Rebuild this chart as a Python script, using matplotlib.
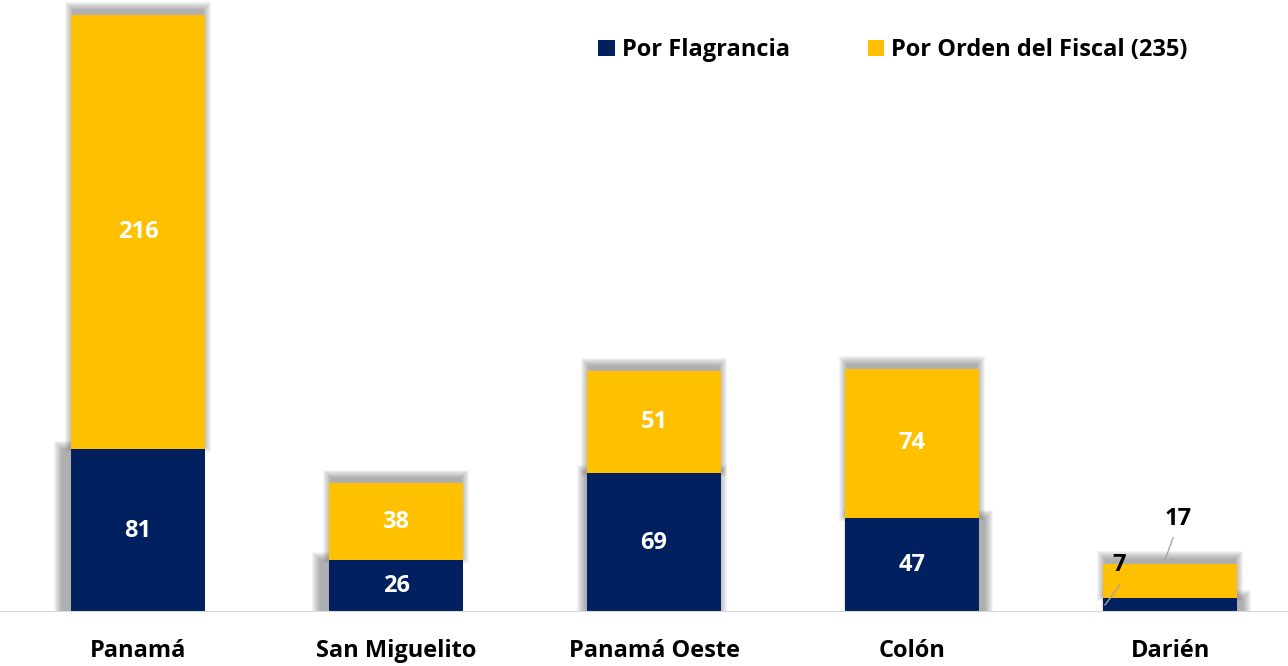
import matplotlib
matplotlib.use("Agg")
import matplotlib.pyplot as plt
from matplotlib.patches import Rectangle
from matplotlib.lines import Line2D

categories = ["Panamá", "San Miguelito", "Panamá Oeste", "Colón", "Darién"]
flagrancia = [81, 26, 69, 47, 7]
orden_fiscal = [216, 38, 51, 74, 17]
series_names = ["Por Flagrancia", "Por Orden del Fiscal (235)"]

NAVY = "#002060"
GOLD = "#FFC000"
FONT = ["Open Sans", "DejaVu Sans"]
FS = 17

W, H = 1288, 666
fig = plt.figure(figsize=(W / 100, H / 100), dpi=100)
ax = fig.add_axes([0, (H - 612) / H, 1, 612 / H])
xmin, xmax = -0.535, 4.457
ymax = 304.5
ax.set_xlim(xmin, xmax)
ax.set_ylim(0, ymax)
for s in ax.spines.values():
    s.set_visible(False)
ax.set_xticks([])
ax.set_yticks([])

pxx = W / (xmax - xmin)
pxy = 612 / ymax
width = 0.52

def shadow(x0, y0, w, h, dxp, dyp, shrink=3, blur=8, alpha=0.07):
    x0 = x0 + (dxp + shrink) / pxx
    w = w - 2 * shrink / pxx
    y0 = y0 + dyp / pxy
    for e in range(blur, -1, -1):
        ex, ey = e / pxx, e / pxy
        ax.add_patch(Rectangle((x0 - ex, y0 - ey), w + 2 * ex, h + 2 * ey,
                               facecolor="#606060", edgecolor="none",
                               alpha=alpha, zorder=1))

# shadow pixel offsets for the navy segments (style only)
navy_shadow_dx = [-9, -9, -2, 6, 6]

x = list(range(len(categories)))
for i in x:
    f, o = flagrancia[i], orden_fiscal[i]
    shadow(i - width / 2, 0, width, f, navy_shadow_dx[i], 0, shrink=0)
    shadow(i - width / 2, f, width, o, 0, 5, shrink=2)

ax.bar(x, flagrancia, width, color=NAVY, zorder=3, label=series_names[0])
ax.bar(x, orden_fiscal, width, bottom=flagrancia, color=GOLD, zorder=3,
       label=series_names[1])

# cover shadow below baseline
ax.add_patch(Rectangle((xmin, -20), xmax - xmin, 20, facecolor="white",
                       edgecolor="none", zorder=2))
ax.axhline(0, color="#D9D9D9", lw=1.5, zorder=4)

for i in x[:-1]:
    f, o = flagrancia[i], orden_fiscal[i]
    ax.text(i, f / 2, str(f), ha="center", va="center", color="white",
            fontsize=FS, fontweight="bold", family=FONT, zorder=5)
    ax.text(i, f + o / 2, str(o), ha="center", va="center", color="white",
            fontsize=FS, fontweight="bold", family=FONT, zorder=5)

# Darién labels with leader lines
i = 4
f, o = flagrancia[i], orden_fiscal[i]
ax.text(i - 0.198, f + 16.5, str(f), ha="center", va="center", fontsize=FS,
        fontweight="bold", family=FONT, color="black", zorder=6)
ax.text(i + 0.03, f + o + 22.5, str(o), ha="center", va="center", fontsize=FS,
        fontweight="bold", family=FONT, color="black", zorder=6)
ax.add_line(Line2D([i - width / 2 + 2 / pxx, i - width / 2 + 17 / pxx],
                   [3.5, 13.5], color="#A6A6A6", lw=1, zorder=6))
ax.add_line(Line2D([i - 5 / pxx, i + 3 / pxx],
                   [f + o + 2, f + o + 13], color="#A6A6A6", lw=1, zorder=6))

for i, c in enumerate(categories):
    ax.text(i, -19.5, c, ha="center", va="center", fontsize=FS, fontweight="bold",
            family=FONT, color="black", clip_on=False)

ax.legend(loc="upper left", bbox_to_anchor=(577 / W, 1 - 17 / 612), ncol=2,
          frameon=False, handlelength=0.7, handleheight=0.7, handletextpad=0.3,
          columnspacing=3.3, prop={"family": FONT, "weight": "bold", "size": FS})

fig.savefig("out.png", dpi=100)
